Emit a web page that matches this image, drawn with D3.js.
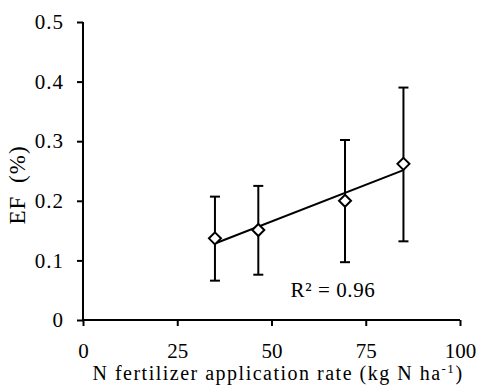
<!DOCTYPE html>
<html>
<head>
<meta charset="utf-8">
<script src="https://cdn.jsdelivr.net/npm/d3@7"></script>
<style>
	body { margin: 0; background: #fff; }
	text { font-family: "Liberation Serif", "Times New Roman", serif; fill: #000; }
</style>
</head>
<body>
<div id="chart"></div>
<script>

// N rate (kg N/ha) and emission factor (%) with error bar bounds
let rates = [35, 46.5, 69.5, 85];
let efMean = [0.137, 0.151, 0.200, 0.262];
let efUpper = [0.207, 0.225, 0.302, 0.390];
let efLower = [0.066, 0.076, 0.097, 0.132];

let xTicks = [0, 25, 50, 75, 100];
let yTicks = [0, 0.1, 0.2, 0.3, 0.4, 0.5];
let r2Label = "R\u00b2 = 0.96";

let width = 481, height = 385;

let svg = d3.select("#chart").append("svg")
	.attr("width", width)
	.attr("height", height);

let x = d3.scaleLinear().domain([0, 100]).range([83, 460]);
let y = d3.scaleLinear().domain([0, 0.5]).range([320, 22]);

// axes
let yAxis = d3.axisLeft(y)
	.tickValues(yTicks)
	.tickFormat(d => d === 0 ? "0" : d3.format(".1f")(d))
	.tickSize(6)
	.tickPadding(13);

let xAxis = d3.axisBottom(x)
	.tickValues(xTicks)
	.tickSize(6)
	.tickPadding(17);

let gy = svg.append("g")
	.attr("transform", `translate(${x(0)},0)`)
	.call(yAxis);

let gx = svg.append("g")
	.attr("transform", `translate(0,${y(0)})`)
	.call(xAxis);

[gx, gy].forEach(g => {
	g.select(".domain").attr("stroke", "#000").attr("stroke-width", 2);
	g.selectAll(".tick line").attr("stroke", "#000").attr("stroke-width", 2);
	g.selectAll(".tick text")
		.style("font-family", '"Liberation Serif", serif')
		.style("font-size", "21px")
		.attr("fill", "#000");
});
gy.selectAll(".tick text").style("letter-spacing", "1px");
// remove the outer tick ends so the axes meet like the original
gx.select(".domain").attr("d", `M${x(0)},0H${x(100)}`);
gy.select(".domain").attr("d", `M0,${y(0)}V${y(0.5)}`);

// linear trend from the points
let mx = d3.mean(rates), my = d3.mean(efMean);
let sxy = d3.sum(rates, (r, i) => (r - mx) * (efMean[i] - my));
let sxx = d3.sum(rates, r => (r - mx) * (r - mx));
let slope = sxy / sxx, intercept = my - slope * mx;
let xr = d3.extent(rates);

svg.append("line")
	.attr("x1", x(xr[0])).attr("y1", y(intercept + slope * xr[0]))
	.attr("x2", x(xr[1])).attr("y2", y(intercept + slope * xr[1]))
	.attr("stroke", "#000")
	.attr("stroke-width", 2);

// error bars
let pts = rates.map((r, i) => ({ r: r, m: efMean[i], hi: efUpper[i], lo: efLower[i] }));
let cap = 5;

let bars = svg.selectAll(".err").data(pts).enter().append("g").attr("class", "err")
	.attr("stroke", "#000").attr("stroke-width", 2);
bars.append("line")
	.attr("x1", d => x(d.r)).attr("x2", d => x(d.r))
	.attr("y1", d => y(d.hi)).attr("y2", d => y(d.lo));
bars.append("line")
	.attr("x1", d => x(d.r) - cap).attr("x2", d => x(d.r) + cap)
	.attr("y1", d => y(d.hi)).attr("y2", d => y(d.hi));
bars.append("line")
	.attr("x1", d => x(d.r) - cap).attr("x2", d => x(d.r) + cap)
	.attr("y1", d => y(d.lo)).attr("y2", d => y(d.lo));

// open diamond markers
let s = 6;
svg.selectAll(".pt").data(pts).enter().append("path")
	.attr("class", "pt")
	.attr("d", d => {
		let cx = x(d.r), cy = y(d.m);
		return `M${cx},${cy - s}L${cx + s},${cy}L${cx},${cy + s}L${cx - s},${cy}Z`;
	})
	.attr("fill", "#fff")
	.attr("stroke", "#000")
	.attr("stroke-width", 2);

// R² annotation
svg.append("text")
	.attr("x", x(66.3))
	.attr("y", y(0.039))
	.attr("text-anchor", "middle")
	.style("font-size", "21px")
	.style("letter-spacing", "0.6px")
	.text(r2Label);

// axis titles
let xt = svg.append("text")
	.attr("x", 278)
	.attr("y", 380)
	.attr("text-anchor", "middle")
	.style("font-size", "20px")
	.style("letter-spacing", "1.5px");
xt.append("tspan").text("N fertilizer application rate (kg N ha");
xt.append("tspan").attr("dy", -7).style("font-size", "13px").text("-1");
xt.append("tspan").attr("dy", 7).text(")");

svg.append("text")
	.attr("transform", "translate(25,185) rotate(-90)")
	.attr("text-anchor", "middle")
	.style("font-size", "23px")
	.style("letter-spacing", "1px")
	.style("word-spacing", "6px")
	.text("EF (%)");

</script>
</body>
</html>
